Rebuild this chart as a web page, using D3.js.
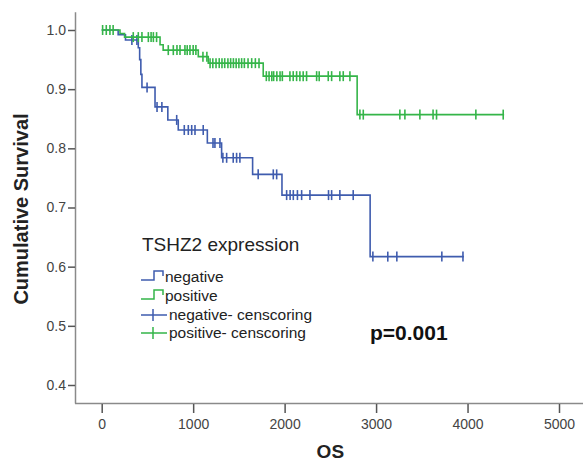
<!DOCTYPE html>
<html>
<head>
<meta charset="utf-8">
<script src="https://cdn.jsdelivr.net/npm/d3@7"></script>
<style>
  body { margin: 0; background: #fff; }
  text { font-family: "Liberation Sans", Arial, sans-serif; }
</style>
</head>
<body>
<div id="chart"></div>
<script>
// Kaplan-Meier steps (time in days, cumulative survival)
var negStepTimes = [0, 180, 260, 400, 415, 428, 440, 583, 723, 837, 1155, 1311, 1650, 1971, 2935];
var negStepSurv  = [1.0, 0.992, 0.983, 0.97, 0.95, 0.925, 0.903, 0.870, 0.848, 0.831, 0.809, 0.784, 0.756, 0.721, 0.617];
var negEnd = 3960;
var negCensor = [330, 385, 496, 605, 658, 820, 903, 947, 984, 1020, 1110, 1217, 1238, 1293,
  1325, 1366, 1438, 1475, 1511, 1711, 1876, 1913, 2022, 2060, 2095, 2140, 2186, 2277,
  2480, 2514, 2604, 2750, 2965, 3128, 3227, 3719, 3950];

var posStepTimes = [0, 200, 250, 638, 672, 1056, 1165, 1766, 2793];
var posStepSurv  = [1.0, 0.994, 0.988, 0.975, 0.966, 0.955, 0.944, 0.922, 0.857];
var posEnd = 4400;
var posCensor = [10, 50, 90, 125, 345, 400, 440, 510, 540, 565, 600, 728, 783, 823, 856,
  910, 935, 965, 1000, 1030, 1107, 1150, 1185, 1215, 1250, 1285, 1315, 1345, 1380,
  1410, 1440, 1470, 1500, 1530, 1560, 1600, 1640, 1680, 1720, 1800, 1830, 1860, 1880,
  1915, 1950, 1975, 2058, 2094, 2131, 2167, 2203, 2240, 2350, 2378, 2477, 2514, 2604,
  2641, 2714, 2823, 2860, 3260, 3315, 3479, 3623, 3661, 4091, 4390];

var xTicks = [0, 1000, 2000, 3000, 4000, 5000];
var yTicks = [0.4, 0.5, 0.6, 0.7, 0.8, 0.9, 1.0];
var legendTitle = "TSHZ2 expression";
var legendLabels = ["negative", "positive", "negative- censcoring", "positive- censcoring"];
var pLabel = "p=0.001";

var blue = "#3f5cae", green = "#35b549";
var width = 583, height = 463;

var svg = d3.select("#chart").append("svg")
    .attr("width", width)
    .attr("height", height);

var x = d3.scaleLinear().domain([0, 5000]).range([101.7, 559]);
var y = d3.scaleLinear().domain([0.4, 1.0]).range([385, 30]);

// frame: left and bottom lines only
svg.append("line")
    .attr("x1", 75.5).attr("x2", 75.5)
    .attr("y1", y(1.03)).attr("y2", 403.5)
    .attr("stroke", "#8a8a8a").attr("stroke-width", 1.5);
svg.append("line")
    .attr("x1", 75).attr("x2", width)
    .attr("y1", 403.5).attr("y2", 403.5)
    .attr("stroke", "#8a8a8a").attr("stroke-width", 1.5);

var yAxis = svg.append("g")
    .attr("transform", "translate(75,0)")
    .call(d3.axisLeft(y).tickValues(yTicks).tickFormat(d3.format(".1f")).tickSize(7).tickPadding(2));
yAxis.select(".domain").remove();

var xAxis = svg.append("g")
    .attr("transform", "translate(0,404)")
    .call(d3.axisBottom(x).tickValues(xTicks).tickFormat(d3.format("d")).tickSize(9).tickPadding(6));
xAxis.select(".domain").remove();

svg.selectAll(".tick line").attr("stroke", "#555").attr("stroke-width", 1.5);
svg.selectAll(".tick text")
    .attr("fill", "#444")
    .style("font-size", "14px")
    .style("font-family", "'Liberation Sans', Arial, sans-serif");

// axis titles
svg.append("text")
    .attr("x", (x(0) + x(5000)) / 2)
    .attr("y", 458)
    .attr("text-anchor", "middle")
    .style("font-size", "19px")
    .style("font-weight", "bold")
    .attr("fill", "#222")
    .text("OS");

svg.append("text")
    .attr("transform", "translate(28,209) rotate(-90)")
    .attr("text-anchor", "middle")
    .style("font-size", "20px")
    .style("font-weight", "bold")
    .attr("fill", "#222")
    .text("Cumulative Survival");

function survAt(times, surv, t) {
  var i = d3.bisectRight(times, t) - 1;
  return surv[Math.max(0, i)];
}

function drawGroup(times, surv, end, censor, color) {
  var pts = times.map(function(t, i) { return [t, surv[i]]; });
  pts.push([end, surv[surv.length - 1]]);

  var line = d3.line()
      .x(function(d) { return x(d[0]); })
      .y(function(d) { return y(d[1]); })
      .curve(d3.curveStepAfter);

  svg.append("path")
      .datum(pts)
      .attr("d", line)
      .attr("fill", "none")
      .attr("stroke", color)
      .attr("stroke-width", 1.6);

  svg.append("g").selectAll("line")
      .data(censor)
      .enter()
      .append("line")
      .attr("x1", function(d) { return x(d); })
      .attr("x2", function(d) { return x(d); })
      .attr("y1", function(d) { return y(survAt(times, surv, d)) - 5; })
      .attr("y2", function(d) { return y(survAt(times, surv, d)) + 5; })
      .attr("stroke", color)
      .attr("stroke-width", 1.6);
}

drawGroup(negStepTimes, negStepSurv, negEnd, negCensor, blue);
drawGroup(posStepTimes, posStepSurv, posEnd, posCensor, green);

// legend
var lg = svg.append("g").attr("transform", "translate(140,0)");
lg.append("text")
    .attr("x", 2).attr("y", 251)
    .style("font-size", "19px")
    .attr("fill", "#222")
    .text(legendTitle);

var rowY = [277, 296, 315, 333];
var rowColor = [blue, green, blue, green];
legendLabels.forEach(function(lab, i) {
  var cy = rowY[i];
  if (i < 2) {
    lg.append("path")
        .attr("d", "M1," + (cy + 3) + "H14V" + (cy - 6) + "H23V" + (cy - 1))
        .attr("fill", "none")
        .attr("stroke", rowColor[i])
        .attr("stroke-width", 1.5);
  } else {
    lg.append("path")
        .attr("d", "M1," + cy + "H27M13," + (cy - 6) + "V" + (cy + 6))
        .attr("fill", "none")
        .attr("stroke", rowColor[i])
        .attr("stroke-width", 1.5);
  }
  lg.append("text")
      .attr("x", i < 2 ? 25 : 29)
      .attr("y", cy + 5)
      .style("font-size", "15.5px")
      .attr("fill", "#222")
      .text(lab);
});

svg.append("text")
    .attr("x", 370).attr("y", 340)
    .style("font-size", "21px")
    .style("font-weight", "bold")
    .attr("fill", "#111")
    .text(pLabel);
</script>
</body>
</html>
